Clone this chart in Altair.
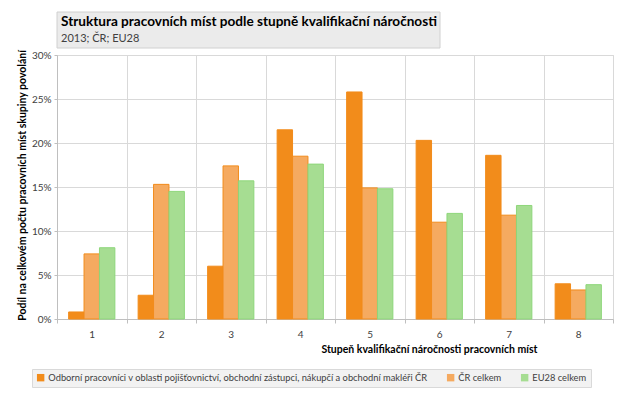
import altair as alt
import pandas as pd

categories = ["1", "2", "3", "4", "5", "6", "7", "8"]
series_names = [
    "Odborní pracovníci v oblasti pojišťovnictví, obchodní zástupci, nákupčí a obchodní makléři ČR",
    "ČR celkem",
    "EU28 celkem",
]
odborni = [0.8, 2.7, 6.0, 21.5, 25.8, 20.3, 18.6, 4.0]
cr_celkem = [7.4, 15.3, 17.4, 18.5, 14.9, 11.0, 11.8, 3.3]
eu28_celkem = [8.1, 14.5, 15.7, 17.6, 14.8, 12.0, 12.9, 3.9]
y_ticks = [0, 5, 10, 15, 20, 25, 30]
chart_title = "Struktura pracovních míst podle stupně kvalifikační náročnosti"
chart_subtitle = "2013; ČR; EU28"

fills = ["#F28C1B", "#F5AA60", "#A6DD92"]
strokes = ["#F28C1B", "#F28C1B", "#8ED67A"]

rows = []
for s, vals in zip(series_names, [odborni, cr_celkem, eu28_celkem]):
    for c, v in zip(categories, vals):
        rows.append({"stupen": c, "serie": s, "podil": v})
df = pd.DataFrame(rows)

FONT = "Lato"

bars = alt.Chart(df).mark_bar(strokeWidth=1).encode(
    x=alt.X(
        "stupen:N",
        sort=categories,
        scale=alt.Scale(paddingInner=0, paddingOuter=0),
        axis=alt.Axis(
            title="Stupeň kvalifikační náročnosti pracovních míst",
            titleFont=FONT, titleFontSize=10.5, titleFontWeight="bold", titleColor="#000000",
            titleAlign="right", titleBaseline="middle", titleX=480, titleY=30,
            labelAngle=0, labelFont=FONT, labelFontSize=10, labelColor="#404040", labelPadding=6,
            tickBand="extent", grid=True, gridColor="#D9D9D9", gridWidth=1,
            domainColor="#BFBFBF", tickColor="#BFBFBF", tickSize=4,
        ),
    ),
    xOffset=alt.XOffset(
        "serie:N", sort=series_names,
        scale=alt.Scale(paddingInner=0, paddingOuter=0.755),
    ),
    y=alt.Y(
        "podil:Q",
        scale=alt.Scale(domain=[0, 30], nice=False),
        axis=alt.Axis(
            title="Podíl na celkovém počtu pracovních míst skupiny povolání",
            titleFont=FONT, titleFontSize=10.5, titleFontWeight="bold", titleColor="#000000",
            titleAngle=-90, titleX=-35, titleY=130, titleAlign="center", titleBaseline="middle",
            values=y_ticks, labelExpr="datum.value + '%'",
            labelFont=FONT, labelFontSize=10, labelColor="#404040", labelPadding=3,
            grid=True, gridColor="#D9D9D9", gridWidth=1,
            domainColor="#BFBFBF", tickColor="#BFBFBF", tickSize=3,
        ),
    ),
    fill=alt.Fill(
        "serie:N", sort=series_names,
        scale=alt.Scale(domain=series_names, range=fills),
        legend=alt.Legend(
            title=None, orient="none", legendX=-25, legendY=314, direction="horizontal",
            symbolType="square", symbolSize=55, symbolStrokeWidth=0, labelOffset=3,
            labelFont=FONT, labelFontSize=9.3, labelColor="#404040", labelLimit=600,
            columnPadding=18, padding=4, fillColor="#F2F2F2", strokeColor="#D9D9D9",
        ),
    ),
    stroke=alt.Stroke(
        "serie:N", sort=series_names,
        scale=alt.Scale(domain=series_names, range=strokes),
        legend=None,
    ),
)

one = pd.DataFrame({"a": [0]})
title_box = alt.Chart(one).mark_rect(
    fill="#EBEBEB", stroke="#D0D0D0", strokeWidth=1
).encode(
    x=alt.value(0), x2=alt.value(383), y=alt.value(-43), y2=alt.value(-7)
)
title_text = alt.Chart(one).mark_text(
    text=chart_title, font=FONT, fontSize=13.6, fontWeight="bold", color="#000000",
    align="left", baseline="middle",
).encode(x=alt.value(4), y=alt.value(-33))
subtitle_text = alt.Chart(one).mark_text(
    text=chart_subtitle, font=FONT, fontSize=11, color="#404040",
    align="left", baseline="middle",
).encode(x=alt.value(4), y=alt.value(-16))

chart = alt.layer(title_box, title_text, subtitle_text, bars).properties(
    width=556,
    height=264,
    padding={"left": 49, "top": 47, "right": 6, "bottom": 70},
    autosize=alt.AutoSizeParams(type="none"),
).configure_view(stroke=None).configure(background="white")

chart.save("out.html", embed_options={"renderer": "svg", "actions": False})
